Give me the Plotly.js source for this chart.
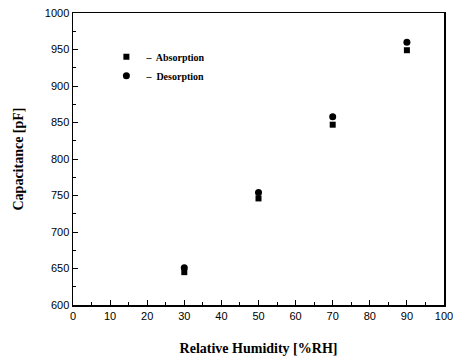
<!DOCTYPE html>
<html>
<head>
<meta charset="utf-8">
<script src="https://cdn.plot.ly/plotly-3.0.1.min.js"></script>
<style>html,body{margin:0;padding:0;background:#fff;}#chart{width:453px;height:360px;}</style>
</head>
<body>
<div id="chart"></div>
<script>
const humidity = [30, 50, 70, 90];
const absorption = [645, 746, 847, 949];
const desorption = [651, 754, 858, 960];
const seriesNames = ["Absorption", "Desorption"];

const traces = [
  {x: humidity, y: absorption, name: "–  " + seriesNames[0], mode: "markers", type: "scatter",
   marker: {symbol: "square", size: 6, color: "#000"}},
  {x: humidity, y: desorption, name: "–  " + seriesNames[1], mode: "markers", type: "scatter",
   marker: {symbol: "circle", size: 7, color: "#000"}}
];

const tickFont = {family: "Liberation Sans, Arial, sans-serif", size: 11, color: "#000"};
const titleFont = {family: "Liberation Serif, Times New Roman, serif", size: 14, color: "#000", weight: "bold"};

const layout = {
  width: 453, height: 360,
  margin: {l: 73, r: 9, t: 13, b: 55},
  paper_bgcolor: "#fff", plot_bgcolor: "#fff",
  showlegend: true,
  legend: {x: 0.09, y: 0.9, xanchor: "left", yanchor: "top", bgcolor: "rgba(0,0,0,0)",
           font: {family: "Liberation Serif, Times New Roman, serif", size: 10, color: "#000", weight: "bold"},
           itemwidth: 30, tracegroupgap: 4},
  xaxis: {range: [0, 100], dtick: 10, ticks: "inside", ticklen: 5, tickwidth: 1, tickcolor: "#000",
          minor: {dtick: 5, ticks: "inside", ticklen: 3, tickcolor: "#000"},
          showline: true, linecolor: "#000", linewidth: 1.5, mirror: true, showgrid: false, zeroline: false,
          tickfont: tickFont, ticklabeloverflow: "allow", automargin: false,
          title: {text: "Relative Humidity [%RH]", font: titleFont, standoff: 22}},
  yaxis: {range: [600, 1000], dtick: 50, ticks: "inside", ticklen: 5, tickwidth: 1, tickcolor: "#000",
          minor: {dtick: 25, ticks: "inside", ticklen: 3, tickcolor: "#000"},
          showline: true, linecolor: "#000", linewidth: 1.5, mirror: true, showgrid: false, zeroline: false,
          tickfont: tickFont, automargin: false,
          title: {text: "Capacitance [pF]", font: titleFont, standoff: 18}}
};

Plotly.newPlot("chart", traces, layout, {displayModeBar: false, staticPlot: true});
</script>
</body>
</html>
